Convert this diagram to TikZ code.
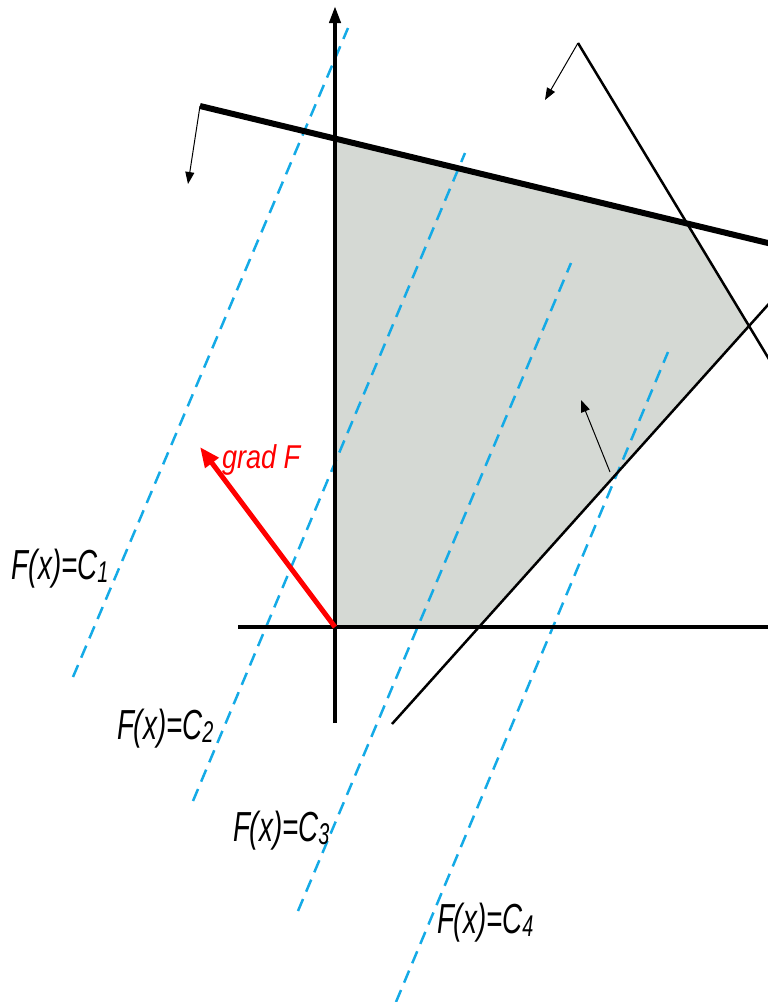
\documentclass[tikz,border=0pt]{standalone}
\usepackage{fontspec}
\setmainfont{Liberation Sans}
\usetikzlibrary{arrows.meta}
\definecolor{regionfill}{RGB}{213,217,212}
\definecolor{levelblue}{RGB}{20,170,230}
\definecolor{gradred}{RGB}{255,0,0}
\newcommand{\levellabel}[1]{\scalebox{0.66}[1]{\fontsize{42}{42}\selectfont\itshape F(x)=C\raisebox{-3pt}{\fontsize{30}{30}\selectfont #1}}}
\begin{document}
\begin{tikzpicture}[x=1pt,y=-1pt,
  axisline/.style={line width=4pt},
  thickline/.style={line width=6pt},
  thinline/.style={line width=2.5pt},
  normalarrow/.style={line width=1pt,-{Triangle[length=12pt,width=9pt]}},
  levelline/.style={levelblue,line width=2.5pt,dash pattern=on 13pt off 8pt},
  gradarrow/.style={gradred,line width=5pt,-{Triangle[length=20pt,width=16pt]}},
  lbl/.style={anchor=base west,inner sep=0pt,outer sep=0pt}]
\useasboundingbox (0,0) rectangle (768,1002);
\clip (0,0) rectangle (768,1002);
% key points
\coordinate (O) at (335,627);
\coordinate (Ytop) at (335,6);
\coordinate (Ybot) at (335,723);
\coordinate (Xleft) at (238,627);
\coordinate (Xright) at (775,627);
\coordinate (L1a) at (200,106);
\coordinate (L1b) at (775,244.7);
\coordinate (L2a) at (578,43);
\coordinate (L2b) at (775,369);
\coordinate (L3a) at (392,724);
\coordinate (L3b) at (775,297);
\coordinate (A1) at (188,184);
\coordinate (A2) at (545,100);
\coordinate (A3t) at (610,472);
\coordinate (A3h) at (581,400);
\coordinate (G) at (200,447);
% region vertices
\coordinate (P1) at (335,139);
\coordinate (P2) at (688,224);
\coordinate (P3) at (749,326);
\coordinate (P4) at (477,627);
\fill[regionfill] (O) -- (P1) -- (P2) -- (P3) -- (P4) -- cycle;
% level lines
\coordinate (D1a) at (73,677);  \coordinate (D1b) at (348,28);
\coordinate (D2a) at (193,801); \coordinate (D2b) at (465,153);
\coordinate (D3a) at (298,911); \coordinate (D3b) at (571,263);
\coordinate (D4a) at (396,1002); \coordinate (D4b) at (668,352);
\draw[levelline] (D1a) -- (D1b);
\draw[levelline] (D2a) -- (D2b);
\draw[levelline] (D3a) -- (D3b);
\draw[levelline] (D4a) -- (D4b);
% axes
\draw[axisline,-{Triangle[length=17pt,width=11pt]}] (Ybot) -- (Ytop);
\draw[axisline] (Xleft) -- (Xright);
% constraints
\draw[thickline] (L1a) -- (L1b);
\draw[thinline] (L2a) -- (L2b);
\draw[thinline] (L3a) -- (L3b);
\draw[normalarrow] (L1a) -- (A1);
\draw[normalarrow] (L2a) -- (A2);
\draw[normalarrow] (A3t) -- (A3h);
% gradient
\draw[gradarrow] (O) -- (G);
\node[lbl,text=gradred] (gl) at (222,468) {\scalebox{0.82}[1]{\fontsize{33}{33}\selectfont\itshape grad F}};
% labels
\node[lbl] (c1) at (12,579) {\levellabel{1}};
\node[lbl] (c2) at (117,739) {\levellabel{2}};
\node[lbl] (c3) at (233,841) {\levellabel{3}};
\node[lbl] (c4) at (437,933) {\levellabel{4}};
\end{tikzpicture}
\end{document}
